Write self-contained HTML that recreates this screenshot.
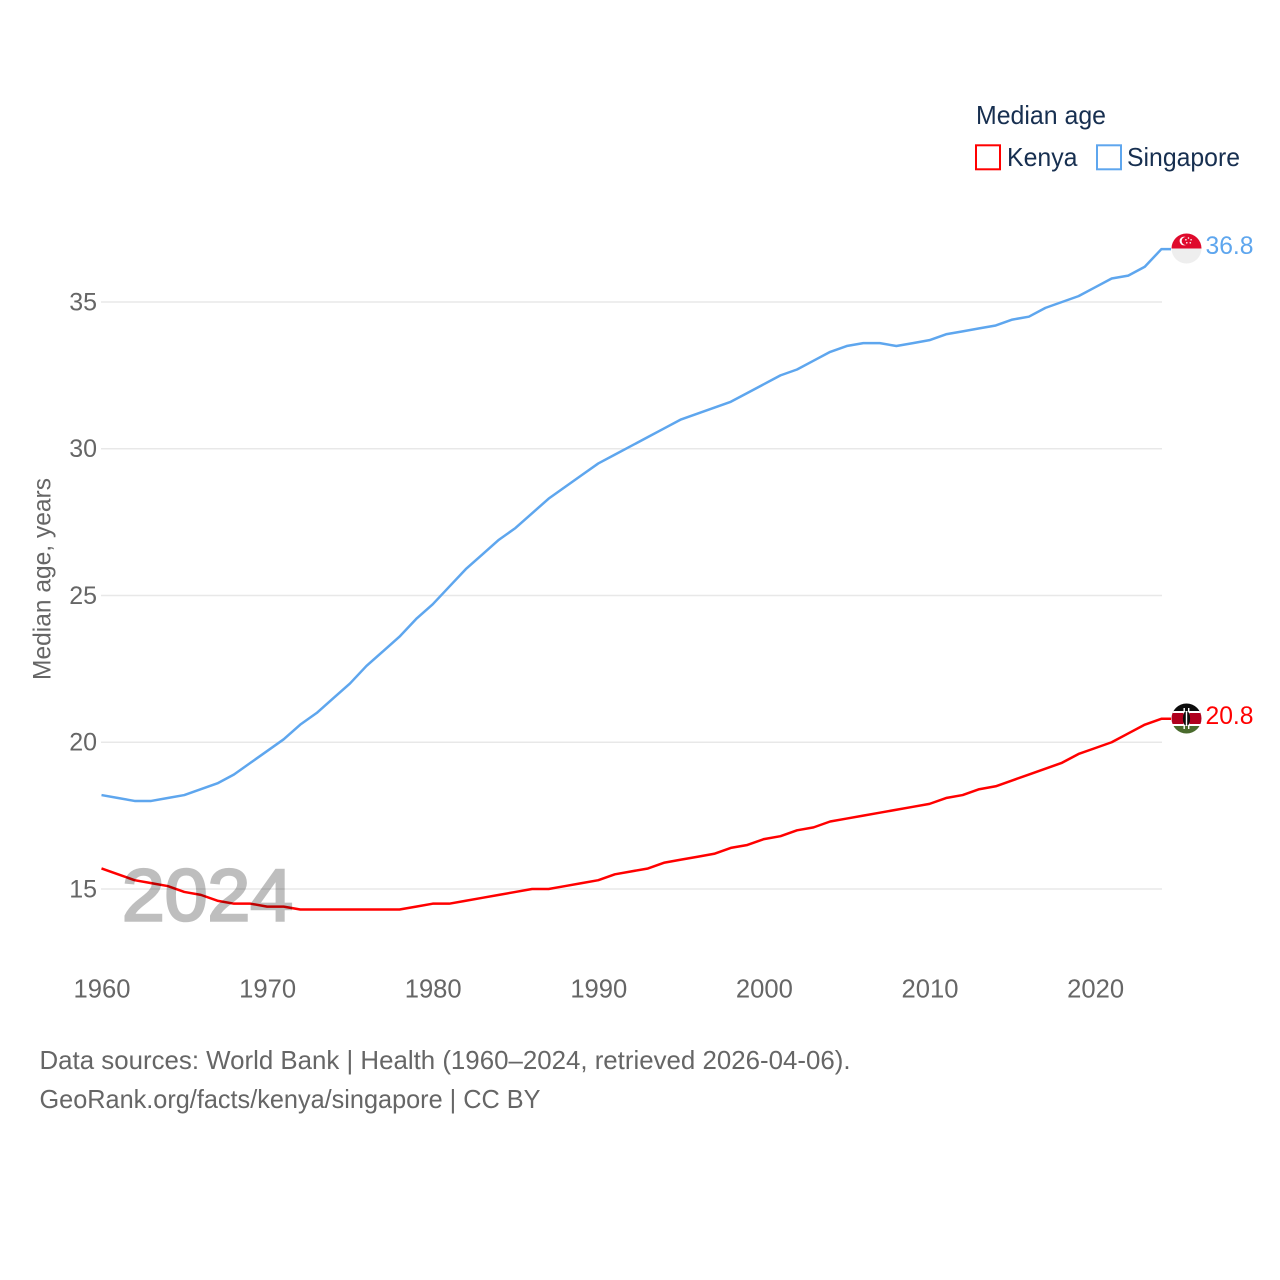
<!DOCTYPE html>
<html lang="en">
<head>
<meta charset="utf-8">
<title>Median age: Kenya and Singapore</title>
<style>
html,body{margin:0;padding:0;background:#fff;width:1280px;height:1280px;overflow:hidden}
svg{display:block}
text{font-family:"Liberation Sans",sans-serif}
</style>
</head>
<body>
<svg id="chart" width="1280" height="1280" viewBox="0 0 1280 1280" xmlns="http://www.w3.org/2000/svg">
  <defs>
    <clipPath id="clip-sg"><circle cx="1186.5" cy="248.5" r="15"/></clipPath>
    <clipPath id="clip-ke"><circle cx="1186.5" cy="718.5" r="15"/></clipPath>
  </defs>
  <g id="grid"></g>
  <g id="yticks"></g>
  <g id="xticks"></g>
  <text transform="translate(50.5,680) rotate(-90)" font-size="25" fill="#666" textLength="202" lengthAdjust="spacingAndGlyphs">Median age, years</text>
  <g id="series"></g>
  <text x="122" y="920.5" font-size="73" fill="#000" stroke="#000" stroke-width="2.6" opacity="0.25" textLength="171" lengthAdjust="spacingAndGlyphs">2024</text>

  <g clip-path="url(#clip-sg)">
    <rect x="1171" y="233.5" width="31" height="15" fill="#df0a2c"/>
    <rect x="1171" y="248.5" width="31" height="15" fill="#eeeeee"/>
    <circle cx="1184" cy="241" r="4.4" fill="#fff"/>
    <circle cx="1185.7" cy="241" r="4" fill="#df0a2c"/>
    <circle cx="1188.5" cy="238" r="0.8" fill="#fff"/>
    <circle cx="1191.1" cy="239.8" r="0.8" fill="#fff"/>
    <circle cx="1190.3" cy="242.8" r="0.8" fill="#fff"/>
    <circle cx="1186.8" cy="242.8" r="0.8" fill="#fff"/>
    <circle cx="1185.9" cy="239.8" r="0.8" fill="#fff"/>
  </g>
  <text id="value-sg" x="1205.5" y="254" font-size="25" textLength="48" lengthAdjust="spacingAndGlyphs" fill="#5ea6ee">36.8</text>

  <g clip-path="url(#clip-ke)">
    <rect x="1171" y="703.5" width="31" height="10" fill="#0c0c0c"/>
    <rect x="1171" y="711" width="31" height="2" fill="#fff"/>
    <rect x="1171" y="713" width="31" height="11" fill="#b0001e"/>
    <rect x="1171" y="724" width="31" height="2" fill="#fff"/>
    <rect x="1171" y="726" width="31" height="8" fill="#4a6b2d"/>
    <rect x="1183.5" y="708" width="1.4" height="21" fill="#fff"/>
    <rect x="1188" y="708" width="1.4" height="21" fill="#fff"/>
    <ellipse cx="1186.5" cy="718.5" rx="3.6" ry="7.5" fill="#0c0c0c"/>
    <rect x="1185.8" y="711" width="1.4" height="15" fill="#fff"/>
  </g>
  <text id="value-ke" x="1205.5" y="724" font-size="25" textLength="48" lengthAdjust="spacingAndGlyphs" fill="#ff0000">20.8</text>

  <g>
    <text x="976" y="124" font-size="26" fill="#172f50" textLength="130" lengthAdjust="spacingAndGlyphs">Median age</text>
    <rect x="976" y="145.3" width="24" height="24" fill="#fff" stroke="#ff0000" stroke-width="2"/>
    <text x="1007" y="166" font-size="26" fill="#172f50" textLength="70.5" lengthAdjust="spacingAndGlyphs">Kenya</text>
    <rect x="1097" y="145.3" width="24" height="24" fill="#fff" stroke="#5ea6ee" stroke-width="2"/>
    <text x="1127" y="166" font-size="26" fill="#172f50" textLength="113" lengthAdjust="spacingAndGlyphs">Singapore</text>
  </g>

  <text x="39.5" y="1069" font-size="26" fill="#666" textLength="811" lengthAdjust="spacingAndGlyphs">Data sources: World Bank | Health (1960–2024, retrieved 2026-04-06).</text>
  <text x="39.5" y="1108" font-size="26" fill="#666" textLength="501" lengthAdjust="spacingAndGlyphs">GeoRank.org/facts/kenya/singapore | CC BY</text>
</svg>
<script>
var startYear = 1960;
var xTickValues = [1960, 1970, 1980, 1990, 2000, 2010, 2020];
var yTickValues = [15, 20, 25, 30, 35];
var kenyaValues = [15.7,15.5,15.3,15.2,15.1,14.9,14.8,14.6,14.5,14.5,14.4,14.4,14.3,14.3,14.3,14.3,14.3,14.3,14.3,14.4,14.5,14.5,14.6,14.7,14.8,14.9,15.0,15.0,15.1,15.2,15.3,15.5,15.6,15.7,15.9,16.0,16.1,16.2,16.4,16.5,16.7,16.8,17.0,17.1,17.3,17.4,17.5,17.6,17.7,17.8,17.9,18.1,18.2,18.4,18.5,18.7,18.9,19.1,19.3,19.6,19.8,20.0,20.3,20.6,20.8];
var singaporeValues = [18.2,18.1,18.0,18.0,18.1,18.2,18.4,18.6,18.9,19.3,19.7,20.1,20.6,21.0,21.5,22.0,22.6,23.1,23.6,24.2,24.7,25.3,25.9,26.4,26.9,27.3,27.8,28.3,28.7,29.1,29.5,29.8,30.1,30.4,30.7,31.0,31.2,31.4,31.6,31.9,32.2,32.5,32.7,33.0,33.3,33.5,33.6,33.6,33.5,33.6,33.7,33.9,34.0,34.1,34.2,34.4,34.5,34.8,35.0,35.2,35.5,35.8,35.9,36.2,36.8];

var NS = 'http://www.w3.org/2000/svg';
function xScale(year) { return 101.5 + (year - 1960) * 16.56; }
function yScale(v) { return 889 - (v - 15) * 29.35; }

var grid = document.getElementById('grid');
var yticks = document.getElementById('yticks');
var xticks = document.getElementById('xticks');
var series = document.getElementById('series');

yTickValues.forEach(function (v) {
  var line = document.createElementNS(NS, 'line');
  
  
  line.setAttribute('x1', 101);
  line.setAttribute('x2', 1162);
  line.setAttribute('y1', yScale(v));
  line.setAttribute('y2', yScale(v));
  line.setAttribute('stroke', '#e8e8e8');
  line.setAttribute('stroke-width', '1.5');
  grid.appendChild(line);

  var t = document.createElementNS(NS, 'text');
  
  
  t.setAttribute('x', 97);
  t.setAttribute('y', yScale(v) + 8.3);
  t.setAttribute('text-anchor', 'end');
  t.setAttribute('font-size', '25');
  t.setAttribute('fill', '#666');
  t.textContent = v;
  yticks.appendChild(t);
});

xTickValues.forEach(function (y) {
  var t = document.createElementNS(NS, 'text');
  
  
  t.setAttribute('x', xScale(y) + 0.5);
  t.setAttribute('y', 997.5);
  t.setAttribute('text-anchor', 'middle');
  t.setAttribute('font-size', '25.6');
  t.setAttribute('fill', '#666');
  t.textContent = y;
  xticks.appendChild(t);
});

function drawSeries(values, color, name, valueId) {
  var pts = values.map(function (v, i) {
    return xScale(startYear + i).toFixed(2) + ',' + yScale(v).toFixed(2);
  });
  var last = values[values.length - 1];
  pts.push('1171,' + yScale(last).toFixed(2));
  var line = document.createElementNS(NS, 'polyline');
  
  
  line.setAttribute('points', pts.join(' '));
  line.setAttribute('fill', 'none');
  line.setAttribute('stroke', color);
  line.setAttribute('stroke-width', '2.5');
  line.setAttribute('stroke-linejoin', 'round');
  series.appendChild(line);
  document.getElementById(valueId).textContent = last.toFixed(1);
}
drawSeries(kenyaValues, '#ff0000', 'kenya-line', 'value-ke');
drawSeries(singaporeValues, '#5ea6ee', 'singapore-line', 'value-sg');
</script>
</body>
</html>
